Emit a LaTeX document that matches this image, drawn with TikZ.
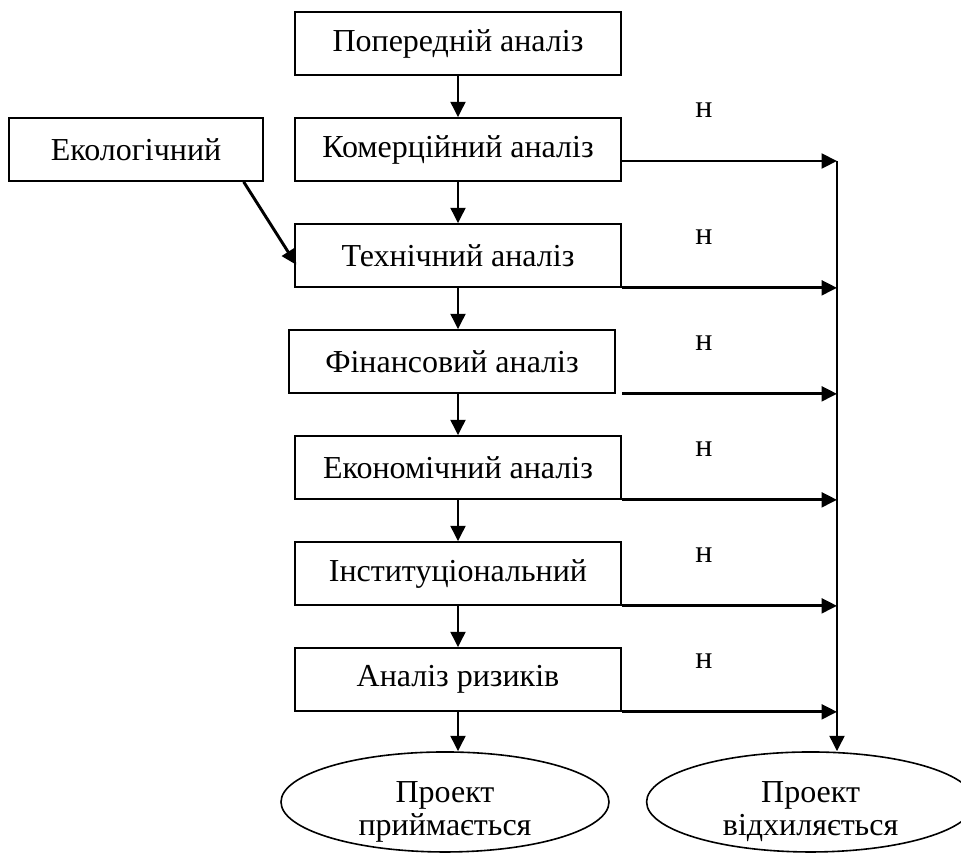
\documentclass[tikz,border=0pt]{standalone}
\usepackage{fontspec}
\setmainfont{Liberation Serif}
\usetikzlibrary{positioning,shapes.geometric,arrows.meta}

\begin{document}
\begin{tikzpicture}[x=0.75pt, y=-0.75pt,
    font=\fontsize{24}{25}\selectfont,
    box/.style={draw, line width=1.5pt, minimum width=245pt, minimum height=47pt, inner sep=0pt},
    oval/.style={draw, ellipse, line width=1.2pt, minimum width=246pt, minimum height=75pt, inner sep=0pt, align=center,
      text height=51pt, text depth=-1pt},
    arr/.style={line width=2.2pt, -{Triangle[length=11.5pt, width=11pt]}},
    node distance=31pt]
    \useasboundingbox (0,0) rectangle (961,854);
    % Colonna principale
    \node [box] (pop) at (458,43.5) {Попередній аналіз};
    \node [box, below=of pop] (kom) {Комерційний аналіз};
    \node [box, below=of kom] (tech) {Технічний аналіз};
    \node [box, below=of tech, xshift=-4.5pt] (fin) {Фінансовий аналіз};
    \node [box, below=of fin, xshift=4.5pt] (ekon) {Економічний аналіз};
    \node [box, below=of ekon] (inst) {Інституціональний};
    \node [box, below=of inst] (ryz) {Аналіз ризиків};
    \node [box, minimum width=190pt, left=22.5pt of kom] (eco) {Екологічний};
    % Esiti
    \node [oval, below=29.5pt of ryz, xshift=-9.75pt] (acc) {Проект\\приймається};
    \node [oval, right=27pt of acc] (rej) {Проект\\відхиляється};
    \coordinate (top) at (837,161);

    \foreach \a/\b in {pop/kom, kom/tech, tech/fin, fin/ekon, ekon/inst, inst/ryz}
      \draw [arr] (\a.south -| kom.south) -- (\b.north -| kom.south);
    \draw [arr] (ryz.south) -- (ryz.south |- acc.north);
    \draw [arr] ([xshift=-15pt]eco.south east) -- ([yshift=-7pt,xshift=2pt]tech.west);

    \draw [arr] (kom.east |- top) -- (top) node [pos=0.38, yshift=38pt] (n1) {н};
    \foreach \b/\n in {tech/2, fin/3, ekon/4, inst/5, ryz/6}
      \draw [arr] (\b.south -| kom.east) -- (\b.south -| top) node [pos=0.38, yshift=38pt] (n\n) {н};
    \draw [arr] (top) -- (top |- rej.north);
\end{tikzpicture}
\end{document}
